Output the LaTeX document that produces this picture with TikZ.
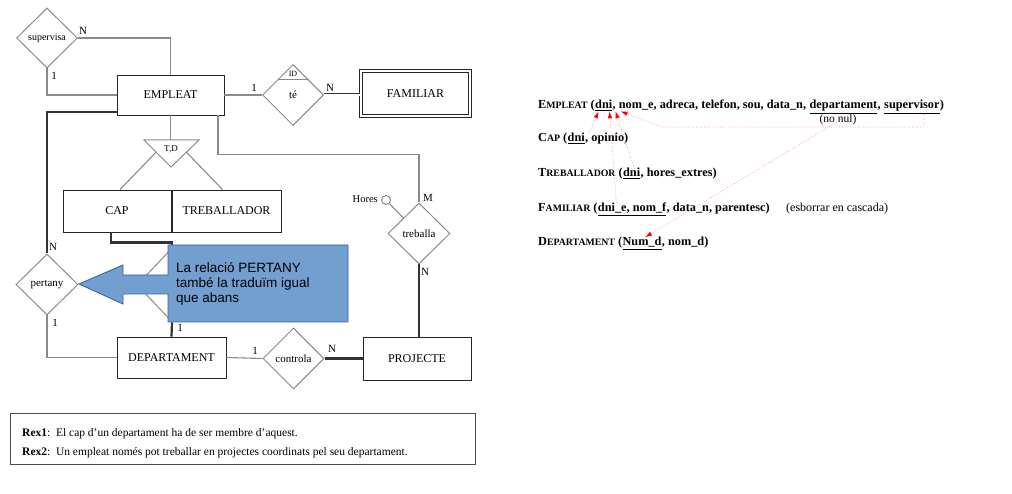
\documentclass[tikz,border=0pt]{standalone}
\usepackage{fontspec}
\setmainfont{Liberation Serif}
\newfontfamily\sansfnt{Liberation Sans}
\usetikzlibrary{shapes.geometric,shadows,arrows.meta,calc}
\definecolor{lineg}{HTML}{8A8A8A}
\definecolor{callfill}{HTML}{729FCF}
\definecolor{calldraw}{HTML}{3465A4}
\definecolor{fkdot}{HTML}{FF8C8C}
\definecolor{fktip}{HTML}{FF0000}
\newcommand\tabnm[2]{#1{\fontsize{9.8}{11}\selectfont #2}}
\begin{document}
\begin{tikzpicture}[x=1pt,y=-1pt,
  entity/.style={draw=black!85, line width=0.9pt, fill=white, inner sep=0pt,
    font=\fontsize{12}{14}\selectfont,
    drop shadow={shadow xshift=1.3pt, shadow yshift=-1.3pt, fill=black!75, opacity=1}},
  weak/.style={entity, line width=1.1pt, double=white, double distance=1.6pt},
  relship/.style={diamond, draw=lineg, line width=1pt, fill=white, inner sep=0pt,
    font=\fontsize{11}{13}\selectfont},
  card/.style={inner sep=0pt, font=\fontsize{11}{13}\selectfont},
  thinl/.style={draw=lineg, line width=1.1pt},
  thickl/.style={draw=black!80, line width=2.2pt},
  dbll/.style={draw=black!80, line width=0.9pt, double=white, double distance=1.2pt},
  rel/.style={inner sep=0pt, anchor=base west, font=\fontsize{12.3}{14}\selectfont\bfseries},
  relplain/.style={inner sep=0pt, font=\fontsize{12}{14}\selectfont},
  fk/.style={draw=fkdot, line width=0.7pt, dotted, -{Latex[length=7pt,width=4.5pt,color=fktip]}},
  rextext/.style={inner sep=0pt, anchor=base west, font=\fontsize{11.5}{13}\selectfont}
]
\useasboundingbox (0,0) rectangle (1012,494);

% ---------- entities and relationships ----------
\node[relship, minimum width=61pt, minimum height=60pt] (sup) at (47,38) {\fontsize{10}{11}\selectfont supervisa};
\node[entity, minimum width=107pt, minimum height=40pt] (emp) at (170.5,95) {EMPLEAT};
\node[relship, minimum width=61pt, minimum height=61pt] (te) at (293,95) {té};
\node[weak, minimum width=109pt, minimum height=45pt] (fam) at (415.5,93.5) {FAMILIAR};
\node[entity, minimum width=108pt, minimum height=42pt] (cap) at (117,211) {CAP};
\node[entity, minimum width=109pt, minimum height=42pt] (treb) at (226.5,211) {TREBALLADOR};
\node[relship, minimum width=62pt, minimum height=61pt] (trb) at (419,233.5) {treballa};
\node[circle, draw=lineg, line width=1pt, minimum size=9pt, inner sep=0pt, fill=white] (hor) at (386,200) {};
\node[card, anchor=east, font=\fontsize{10.5}{12}\selectfont] (horlbl) at (378,199) {Hores};
\node[entity, minimum width=108pt, minimum height=43pt] (proj) at (417,358.5) {PROJECTE};
\node[relship, minimum width=61pt, minimum height=61pt] (ctrl) at (293.5,358.5) {controla};
\node[entity, minimum width=109pt, minimum height=41pt] (dept) at (171.5,357.5) {DEPARTAMENT};
\node[relship, minimum width=62pt, minimum height=61pt] (pert) at (47,284.5) {pertany};
\node[relship, minimum width=70pt, minimum height=74pt] (dir) at (172,285) {};

% ID band of the weak relationship
\draw[draw=lineg, line width=1pt] ($(te.north)!0.5!(te.west)$) -- ($(te.north)!0.5!(te.east)$);
\node[inner sep=0pt, font=\fontsize{8}{9}\selectfont] (idlbl) at (293,74) {ID};

% specialisation triangle
\draw[draw=lineg, line width=1pt, fill=white] (144,140) coordinate (tdl) -- (199,140) coordinate (tdr) -- (171,167) coordinate (tdb) -- cycle;
\node[inner sep=0pt, font=\fontsize{9}{10}\selectfont] (tdlbl) at (171,149) {T,D};

% ---------- connectors ----------
\draw[thinl] (sup.east) -| (emp.north);
\draw[thinl] (sup.south) |- (emp.west);
\draw[thinl] (emp.east) -- (emp.east -| te.west);
\draw[dbll] (te.east) -- (te.east -| fam.west);
\draw[thinl] (emp.south) -- (emp.south |- tdl);
\draw[thinl] ($(tdl)!0.45!(tdb)$) -- ([xshift=3pt]cap.north);
\draw[thinl] ($(tdr)!0.45!(tdb)$) -- ([xshift=-4pt]treb.north);
\draw[thinl] ([xshift=47.5pt]emp.south) -- ++(0,39) -| (trb.north);
\draw[thinl] (hor) -- ($(trb.north)!0.5!(trb.west)$);
\draw[thickl] (trb.south) -- (trb.south |- proj.north);
\draw[thinl] (dept.east) -- (ctrl.west);
\draw[thickl] (ctrl.east) -- (proj.west);
\draw[thinl] (pert.south) |- (dept.west);
\draw[thickl] (pert.north) |- ([yshift=-17pt]emp.west);
\draw[thickl] ([xshift=-6pt]cap.south) -- ++(0,10) -| (dir.north);
\draw[thickl] (dept.north) -- (dir.south);

% cardinalities
\node[card] (c1) at (83,31) {N};
\node[card] (c2) at (54,76) {1};
\node[card] (c3) at (254,88) {1};
\node[card] (c4) at (330,88) {N};
\node[card] (c5) at (428,198) {M};
\node[card] (c6) at (425,272) {N};
\node[card] (c7) at (255,351) {1};
\node[card] (c8) at (332,349) {N};
\node[card] (c9) at (53,247) {N};
\node[card] (c10) at (55,323) {1};
\node[card] (c11) at (180,328) {1};

% ---------- callout ----------
\draw[fill=callfill, draw=calldraw, line width=0.9pt]
  (348,245) -- (168,245) -- (168,275) -- (123,275) -- (123,265) -- (79,284)
  -- (123,304) -- (123,294) -- (168,294) -- (168,322) -- (348,322) -- cycle;
\node[anchor=north west, inner sep=0pt, align=left, font=\sansfnt\fontsize{13.5}{15}\selectfont] (calltext) at (176,262)
  {La relació PERTANY\\també la traduïm igual\\que abans};

% ---------- constraints box ----------
\node[draw=black!70, line width=0.8pt, minimum width=465pt, minimum height=51pt, anchor=north west, inner sep=0pt] (rex) at (10,413) {};
\node[rextext] (rex1) at (22,436) {\textbf{Rex1}:\ \ El cap d'un departament ha de ser membre d'aquest.};
\node[rextext] (rex2) at (22,455) {\textbf{Rex2}:\ \ Un empleat només pot treballar en projectes coordinats pel seu departament.};

% ---------- relational schema ----------
\node[rel] (e0) at (538,109) {\tabnm{E}{MPLEAT} (};
\node[rel] (e1) at (e0.base east) {\underline{dni}};
\node[rel] (e2) at (e1.base east) {, nom\_e, adreca, telefon, sou, data\_n,\kern.25em};
\node[rel] (e3) at (e2.base east) {\underline{departament}};
\node[rel] (e4) at (e3.base east) {,\kern.25em};
\node[rel] (e5) at (e4.base east) {\underline{supervisor}};
\node[rel] (e6) at (e5.base east) {)};
\node[relplain, font=\fontsize{11.5}{13}\selectfont] (nn) at (838,120) {(no nul)};

\node[rel] (k0) at (538,142) {\tabnm{C}{AP} (};
\node[rel] (k1) at (k0.base east) {\underline{dni}};
\node[rel] (k2) at (k1.base east) {, opinio)};

\node[rel] (t0) at (538,177) {\tabnm{T}{REBALLADOR} (};
\node[rel] (t1) at (t0.base east) {\underline{dni}};
\node[rel] (t2) at (t1.base east) {, hores\_extres)};

\node[rel] (f0) at (538,212) {\tabnm{F}{AMILIAR} (};
\node[rel] (f1) at (f0.base east) {\underline{dni\_e, nom\_f}};
\node[rel] (f2) at (f1.base east) {, data\_n, parentesc)};
\node[relplain, anchor=base west] (f3) at (786,212) {(esborrar en cascada)};

\node[rel] (d0) at (538,246) {\tabnm{D}{EPARTAMENT} (};
\node[rel] (d1) at (d0.base east) {\underline{Num\_d}};
\node[rel] (d2) at (d1.base east) {, nom\_d)};

% foreign-key arrows
\coordinate (bend) at (662,127);
\draw[fk] ([xshift=4pt]k1.north east) -- ([xshift=-5pt]e1.south);
\draw[fk] ([xshift=-6pt]t1.north east) -- ([xshift=3pt]e1.south east);
\draw[fk] ([xshift=-50pt]f1.north east) -- ([xshift=-3pt]e1.south east);
\draw[fk] ([xshift=12pt]e5.south) |- (bend) -- ([xshift=8pt]e1.south east);
\draw[fk] ([xshift=7pt]e3.south) -- ([xshift=3pt]d1.north);
\end{tikzpicture}
\end{document}
